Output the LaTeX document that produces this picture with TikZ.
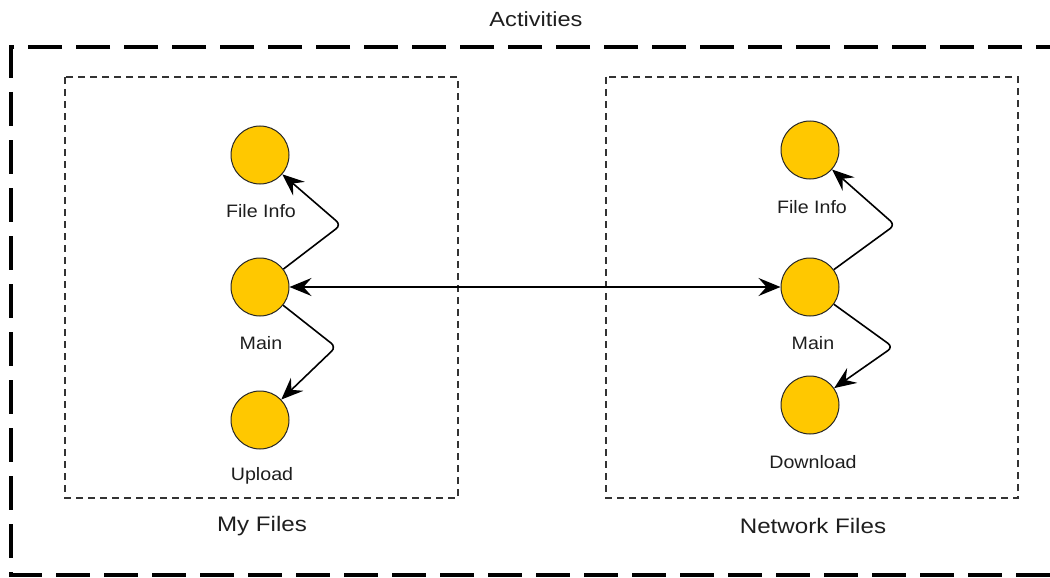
\documentclass[tikz,border=0pt]{standalone}
\usepackage{fontspec}
\setmainfont{Liberation Sans}
\newfontfamily\lblfont[FakeStretch=1.09]{Liberation Sans}
\newfontfamily\bigfont[FakeStretch=1.15]{Liberation Sans}
\usetikzlibrary{arrows.meta}
\definecolor{nodeyellow}{RGB}{255,200,0}
\definecolor{txt}{RGB}{30,30,30}
\tikzset{
  state/.style={circle, draw=black!85, line width=1pt, fill=nodeyellow, minimum size=58pt, inner sep=0pt},
  lbl/.style={font=\lblfont\fontsize{18}{20}\selectfont, text=txt, inner sep=0pt},
  biglbl/.style={font=\bigfont\fontsize{21}{24}\selectfont, text=txt, inner sep=0pt},
  outerbox/.style={draw=black, line width=4pt, dash pattern=on 34pt off 14pt},
  innerbox/.style={draw=black!80, line width=1.3pt, dash pattern=on 7pt off 5pt},
  arr/.style={draw=black, line width=1.6pt, -{Stealth[length=22pt,width=18pt,inset=8pt]}, rounded corners=6pt},
  darr/.style={draw=black, line width=1.6pt, {Stealth[length=22pt,width=18pt,inset=8pt]}-{Stealth[length=22pt,width=18pt,inset=8pt]}}
}
\begin{document}
\begin{tikzpicture}[x=1pt,y=-1pt]
\useasboundingbox (0,0) rectangle (1050,578);
% outer frame
\draw[outerbox] (1070,47) -- (11,47) -- (11,575) -- (1070,575);
\node[biglbl, font=\bigfont\fontsize{20.5}{24}\selectfont] (title) at (536,19) {Activities};
% inner boxes
\draw[innerbox] (65,77) rectangle (458,498);
\draw[innerbox] (606,77) rectangle (1018,498);
\node[biglbl] (myfiles) at (262,526) {My Files};
\node[biglbl] (netfiles) at (813,526) {Network Files};
% left states
\node[state] (fileL) at (260,155) {};
\node[state] (mainL) at (260,287) {};
\node[state] (upL) at (260,420) {};
\node[lbl] at (261,211) {File Info};
\node[lbl] at (261,343) {Main};
\node[lbl] at (262,476) {Upload};
% right states
\node[state] (fileR) at (810,150) {};
\node[state] (mainR) at (810,287) {};
\node[state] (downR) at (810,405) {};
\node[lbl] at (812,207) {File Info};
\node[lbl] at (813,343) {Main};
\node[lbl] at (813,462) {Download};
% connectors
\coordinate (cL1) at (341,225);
\coordinate (cL2) at (336,347);
\coordinate (cR1) at (895,225);
\coordinate (cR2) at (893,347);
\draw[arr] (mainL) -- (cL1) -- (fileL);
\draw[arr] (mainL) -- (cL2) -- (upL);
\draw[arr] (mainR) -- (cR1) -- (fileR);
\draw[arr] (mainR) -- (cR2) -- (downR);
\draw[darr] (mainL) -- (mainR);
\end{tikzpicture}
\end{document}
